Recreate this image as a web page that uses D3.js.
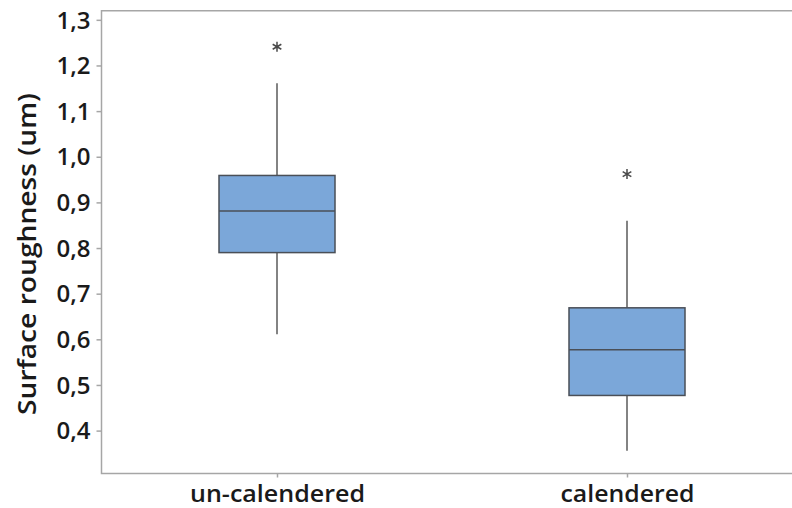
<!DOCTYPE html>
<html>
<head>
<meta charset="utf-8">
<script src="https://cdn.jsdelivr.net/npm/d3@7"></script>
<style>
  html, body { margin: 0; padding: 0; background: #fff; }
  svg { display: block; }
  text { font-family: "Open Sans", "Noto Sans", sans-serif; }
</style>
</head>
<body>
<svg id="chart" width="792" height="508"></svg>
<script>
// Surface roughness by treatment: box-plot summaries
const categories = ["un-calendered", "calendered"];
const q1Values = [0.790, 0.477];
const medianValues = [0.881, 0.577];
const q3Values = [0.959, 0.669];
const whiskerLow = [0.611, 0.356];
const whiskerHigh = [1.161, 0.860];
const outliers = [[1.241], [0.962]];
const yTicks = [0.4, 0.5, 0.6, 0.7, 0.8, 0.9, 1.0, 1.1, 1.2, 1.3];

const data = categories.map((c, i) => ({
  cat: c, q1: q1Values[i], med: medianValues[i], q3: q3Values[i],
  lo: whiskerLow[i], hi: whiskerHigh[i], out: outliers[i]
}));

const svg = d3.select("#chart");
const plotLeft = 101.5, plotTop = 10.7, plotBottom = 473.5, plotRight = 978;

const y = d3.scaleLinear().domain([0.306, 1.32]).range([plotBottom, plotTop]);
const x = d3.scalePoint().domain(categories).range([277, 627]);
const boxW = 116;
const labelWidths = {"un-calendered": 175, "calendered": 134};

// frame (open on the right, cut by the page edge)
svg.append("path")
  .attr("d", `M${plotRight},${plotTop}H${plotLeft}V${plotBottom}H${plotRight}`)
  .attr("fill", "none").attr("stroke", "#a6a6a6").attr("stroke-width", 1.5);

// y axis
const yAxis = svg.append("g").attr("transform", `translate(${plotLeft},0)`)
  .call(d3.axisLeft(y).tickValues(yTicks).tickSize(5).tickPadding(6)
    .tickFormat(d => d3.format(".1f")(d).replace(".", ",")));
yAxis.select(".domain").remove();
yAxis.selectAll(".tick line").attr("stroke", "#a6a6a6").attr("stroke-width", 1.5);
yAxis.selectAll(".tick text").attr("fill", "#1a1a1a")
  .style("font-size", "24px").style("font-weight", 600)
  .attr("dy", "0.34em");

// x axis
const xAxis = svg.append("g").attr("transform", `translate(0,${plotBottom})`)
  .call(d3.axisBottom(x).tickSize(4).tickPadding(7));
xAxis.select(".domain").remove();
xAxis.selectAll(".tick line").attr("stroke", "#a6a6a6").attr("stroke-width", 1.5);
xAxis.selectAll(".tick text").attr("fill", "#1a1a1a")
  .style("font-size", "24px").style("font-weight", 600)
  .attr("textLength", d => labelWidths[d]).attr("lengthAdjust", "spacingAndGlyphs");

// y axis title
svg.append("text")
  .attr("transform", "translate(36,254) rotate(-90)")
  .attr("text-anchor", "middle")
  .attr("fill", "#1a1a1a")
  .style("font-size", "25px").style("font-weight", 600)
  .attr("textLength", 322).attr("lengthAdjust", "spacingAndGlyphs")
  .text("Surface roughness (um)");

const boxes = svg.append("g").selectAll("g").data(data).join("g");

// whiskers
boxes.append("line")
  .attr("x1", d => x(d.cat)).attr("x2", d => x(d.cat))
  .attr("y1", d => y(d.q3)).attr("y2", d => y(d.hi))
  .attr("stroke", "#5a5a5a").attr("stroke-width", 1.5);
boxes.append("line")
  .attr("x1", d => x(d.cat)).attr("x2", d => x(d.cat))
  .attr("y1", d => y(d.q1)).attr("y2", d => y(d.lo))
  .attr("stroke", "#5a5a5a").attr("stroke-width", 1.5);

// interquartile boxes
boxes.append("rect")
  .attr("x", d => x(d.cat) - boxW / 2).attr("width", boxW)
  .attr("y", d => y(d.q3)).attr("height", d => y(d.q1) - y(d.q3))
  .attr("fill", "#7ba7d9").attr("stroke", "#4a4f57").attr("stroke-width", 1.5);

// medians
boxes.append("line")
  .attr("x1", d => x(d.cat) - boxW / 2).attr("x2", d => x(d.cat) + boxW / 2)
  .attr("y1", d => y(d.med)).attr("y2", d => y(d.med))
  .attr("stroke", "#4a4f57").attr("stroke-width", 1.5);

// outliers
boxes.selectAll("path.out").data(d => d.out.map(v => ({cat: d.cat, v})))
  .join("path").attr("class", "out")
  .attr("transform", d => `translate(${x(d.cat)},${y(d.v)})`)
  .attr("d", d3.symbol(d3.symbolAsterisk, 70))
  .attr("fill", "none").attr("stroke", "#4a4a4a").attr("stroke-width", 1.5);
</script>
</body>
</html>
